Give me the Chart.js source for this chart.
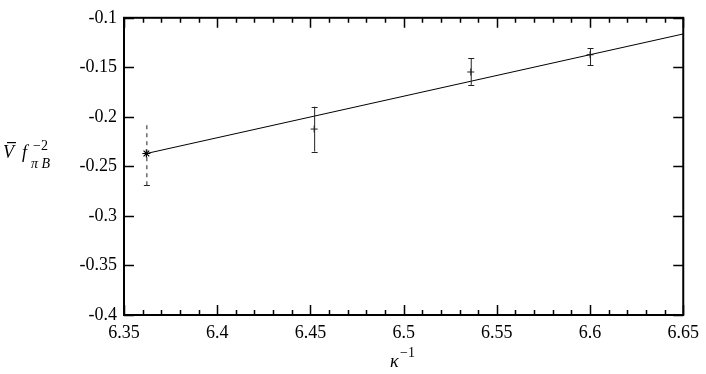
<!DOCTYPE html>
<html>
<head>
<meta charset="utf-8">
<script src="https://cdn.jsdelivr.net/npm/chart.js@4"></script>
<style>
  html, body { margin: 0; padding: 0; background: #fff; }
  #wrap { width: 706px; height: 374px; }
</style>
</head>
<body>
<div id="wrap"><canvas id="chart" width="706" height="374"></canvas></div>
<script>
// measured points with error bars
const kappaInv = [6.452, 6.536, 6.6];
const vBar = [-0.2123, -0.1547, -0.1373];
const vLow = [-0.235, -0.1677, -0.148];
const vHigh = [-0.1897, -0.141, -0.1307];

// extrapolated point (dashed error bar)
const extrapX = [6.362];
const extrapY = [-0.237];
const extrapLow = [-0.269];
const extrapHigh = [-0.205];

// linear fit
const fitX = [6.362, 6.65];
const fitY = [-0.237, -0.1163];

// axes
const xTicks = [6.35, 6.4, 6.45, 6.5, 6.55, 6.6, 6.65];
const yTicks = [-0.4, -0.35, -0.3, -0.25, -0.2, -0.15, -0.1];

const FONT = '"Liberation Serif", "DejaVu Serif", serif';

const toPts = (xs, ys) => xs.map((x, i) => ({ x: x, y: ys[i] }));

// error bars + frame + tick marks
const paperPlugin = {
  id: "paper",
  afterDatasetsDraw(chart) {
    const ctx = chart.ctx;
    const xs = chart.scales.x, ys = chart.scales.y;
    chart.data.datasets.forEach(ds => {
      if (!ds.errLow) return;
      ds.data.forEach((p, i) => {
        const px = xs.getPixelForValue(p.x);
        const lo = ys.getPixelForValue(ds.errLow[i]);
        const hi = ys.getPixelForValue(ds.errHigh[i]);
        ctx.save();
        ctx.strokeStyle = "#222";
        ctx.lineWidth = 1;
        if (ds.errDash) ctx.setLineDash([4, 4]);
        ctx.beginPath();
        ctx.moveTo(px + 0.5, lo);
        ctx.lineTo(px + 0.5, hi);
        ctx.stroke();
        ctx.setLineDash([]);
        ctx.beginPath();
        ctx.moveTo(px - 2.5, Math.round(lo) + 0.5);
        ctx.lineTo(px + 3.5, Math.round(lo) + 0.5);
        if (!ds.errDash) {
          ctx.moveTo(px - 2.5, Math.round(hi) + 0.5);
          ctx.lineTo(px + 3.5, Math.round(hi) + 0.5);
        }
        ctx.stroke();
        ctx.restore();
      });
    });
  },
  afterDraw(chart) {
    const ctx = chart.ctx;
    const a = chart.chartArea;
    const xs = chart.scales.x, ys = chart.scales.y;
    ctx.save();
    ctx.strokeStyle = "#000";
    ctx.lineWidth = 1.5;
    ctx.beginPath();
    // x ticks, major and minor, top and bottom
    for (let k = 0; k <= 30; k++) {
      const v = 6.35 + k * 0.01;
      const px = Math.round(xs.getPixelForValue(v)) + 0.5;
      const len = k % 5 === 0 ? 10 : 5;
      ctx.moveTo(px, a.bottom);
      ctx.lineTo(px, a.bottom - len);
      ctx.moveTo(px, a.top);
      ctx.lineTo(px, a.top + len);
    }
    yTicks.forEach(v => {
      const py = Math.round(ys.getPixelForValue(v)) + 0.5;
      ctx.moveTo(a.left, py);
      ctx.lineTo(a.left + 10, py);
      ctx.moveTo(a.right, py);
      ctx.lineTo(a.right - 10, py);
    });
    ctx.stroke();
    ctx.lineWidth = 2;
    ctx.strokeRect(a.left, a.top, a.right - a.left, a.bottom - a.top);

    // axis titles
    ctx.fillStyle = "#000";
    ctx.textBaseline = "alphabetic";
    ctx.textAlign = "left";
    // y title:  V-bar f_{pi B}^{-2}
    ctx.font = "italic 18px " + FONT;
    ctx.fillText("V", 3, 158);
    ctx.fillRect(7, 142, 9, 1.2);
    ctx.fillText("f", 22, 158);
    ctx.font = "14px " + FONT;
    ctx.fillText("\u22122", 33, 150);
    ctx.font = "italic 14px " + FONT;
    ctx.fillText("\u03C0 B", 31, 168);
    // x title: kappa^{-1}
    ctx.font = "italic 18px " + FONT;
    ctx.fillText("\u03BA", 390, 367);
    ctx.font = "14px " + FONT;
    ctx.fillText("\u22121", 400, 357);
    ctx.restore();
  }
};

new Chart(document.getElementById("chart"), {
  type: "scatter",
  data: {
    datasets: [
      {
        type: "line",
        data: toPts(fitX, fitY),
        borderColor: "#000",
        borderWidth: 1,
        pointRadius: 0,
        fill: false
      },
      {
        data: toPts(kappaInv, vBar),
        errLow: vLow,
        errHigh: vHigh,
        pointStyle: "cross",
        pointRadius: 3.5,
        borderColor: "#222",
        borderWidth: 1
      },
      {
        data: toPts(extrapX, extrapY),
        errLow: extrapLow,
        errHigh: extrapHigh,
        errDash: true,
        pointStyle: "star",
        pointRadius: 4,
        borderColor: "#000",
        borderWidth: 1.2
      }
    ]
  },
  options: {
    responsive: false,
    animation: false,
    events: [],
    layout: { padding: { left: 0, right: 22, top: 15, bottom: 0 } },
    plugins: { legend: { display: false }, tooltip: { enabled: false } },
    scales: {
      x: {
        type: "linear",
        min: 6.35,
        max: 6.65,
        afterFit: s => { s.height = 59; },
        afterBuildTicks: s => { s.ticks = xTicks.map(v => ({ value: v })); },
        grid: { display: false, drawTicks: false },
        border: { display: false },
        ticks: {
          padding: 7,
          color: "#000",
          font: { family: FONT, size: 18 },
          maxRotation: 0,
          callback: v => String(Math.round(v * 100) / 100)
        }
      },
      y: {
        type: "linear",
        min: -0.4,
        max: -0.1,
        afterFit: s => { s.width = 124; },
        afterBuildTicks: s => { s.ticks = yTicks.map(v => ({ value: v })); },
        grid: { display: false, drawTicks: false },
        border: { display: false },
        ticks: {
          padding: 7,
          color: "#000",
          font: { family: FONT, size: 18 },
          callback: v => String(Math.round(v * 100) / 100)
        }
      }
    }
  },
  plugins: [paperPlugin]
});
</script>
</body>
</html>
